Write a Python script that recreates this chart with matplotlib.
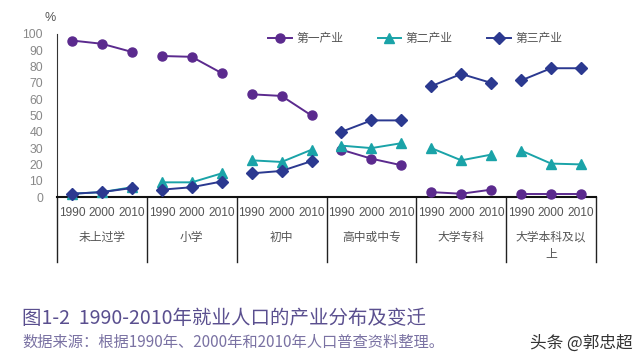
import matplotlib
matplotlib.use("Agg")
import matplotlib.pyplot as plt
import matplotlib.transforms as mtransforms

plt.rcParams['font.family'] = ['Noto Sans CJK SC', 'DejaVu Sans']

groups = ["未上过学", "小学", "初中", "高中或中专", "大学专科", "大学本科及以\n上"]
years = ["1990", "2000", "2010"]
series_names = ["第一产业", "第二产业", "第三产业"]

primary = [[96, 94, 89], [86.5, 86, 76], [63, 62, 50], [29, 23.5, 19.5], [3, 2, 4.5], [2, 2, 2]]
secondary = [[2, 3, 6], [9, 9, 14.5], [22.5, 21.5, 29], [31.5, 30, 33], [30, 22.5, 26], [28.5, 20.5, 20]]
tertiary = [[2, 3, 5.5], [4.5, 6, 9.5], [14.5, 16, 22], [40, 47, 47], [68, 75.5, 70], [71.5, 79, 79]]

colors = ["#5b2a8e", "#1aa3a8", "#2b3990"]
markers = ["o", "^", "D"]
msizes = [6.5, 7, 6]

fig = plt.figure(figsize=(6.4, 3.64), dpi=100)
ax = fig.add_axes([57/640, 1-197/364, (596-57)/640, (197-34)/364])

for s_i, data in enumerate([primary, secondary, tertiary]):
    for g_i, vals in enumerate(data):
        xs = [g_i*3 + k for k in range(3)]
        ax.plot(xs, vals, color=colors[s_i], marker=markers[s_i], ms=msizes[s_i],
                lw=1.4, clip_on=False, zorder=3+s_i,
                label=series_names[s_i] if g_i == 0 else None)

ax.set_xlim(-0.5, len(groups)*3 - 0.5)
ax.set_ylim(0, 100)
ax.set_yticks(range(0, 101, 10))
ax.tick_params(axis='y', length=0, pad=10, labelsize=8.8, labelcolor="#888888")
for lab in ax.get_yticklabels():
    lab.set_fontfamily(["Liberation Sans", "DejaVu Sans"])
ax.set_xticks([])
for sp in ["top", "right"]:
    ax.spines[sp].set_visible(False)
ax.spines["left"].set_color("#333333")
ax.spines["bottom"].set_color("#111111")
ax.spines["bottom"].set_linewidth(1.5)

trans = mtransforms.blended_transform_factory(ax.transData, ax.transAxes)
depth = (262-197)/163
for b in range(len(groups)+1):
    ax.plot([b*3-0.5, b*3-0.5], [0, -depth], transform=trans, color="#222222",
            lw=1.0, clip_on=False)
for g_i, name in enumerate(groups):
    for k, y in enumerate(years):
        ax.text(g_i*3 + k, -16/163, y, transform=trans, ha="center", va="center",
                fontsize=8.6, color="#555555", family=["Liberation Sans", "DejaVu Sans"])
    ax.text(g_i*3 + 1, -34/163, name, transform=trans, ha="center", va="top",
            fontsize=8.5, color="#555555", linespacing=1.4)

fig.text(50/640, 1-18/364, "%", ha="center", va="center", fontsize=9, color="#555555",
         family=["Liberation Sans", "DejaVu Sans"])

leg = ax.legend(loc="upper left", bbox_to_anchor=((268-57)/539, 1.01), ncol=3, frameon=False,
                fontsize=8.5, handlelength=2.0, columnspacing=2.9, handletextpad=0.4,
                borderaxespad=0, borderpad=0)
for t in leg.get_texts():
    t.set_color("#555555")

fig.text(22/640, 1-318/364, "图1-2  1990-2010年就业人口的产业分布及变迁", ha="left", va="center",
         fontsize=14, color="#5a4f8f")
fig.text(22/640, 1-342/364, "数据来源：根据1990年、2000年和2010年人口普查资料整理。", ha="left", va="center",
         fontsize=11, color="#7a72a3")
fig.text(633/640, 1-343/364, "头条 @郭忠超", ha="right", va="center",
         fontsize=12, color="#333333")

fig.savefig("out.png", dpi=100)
